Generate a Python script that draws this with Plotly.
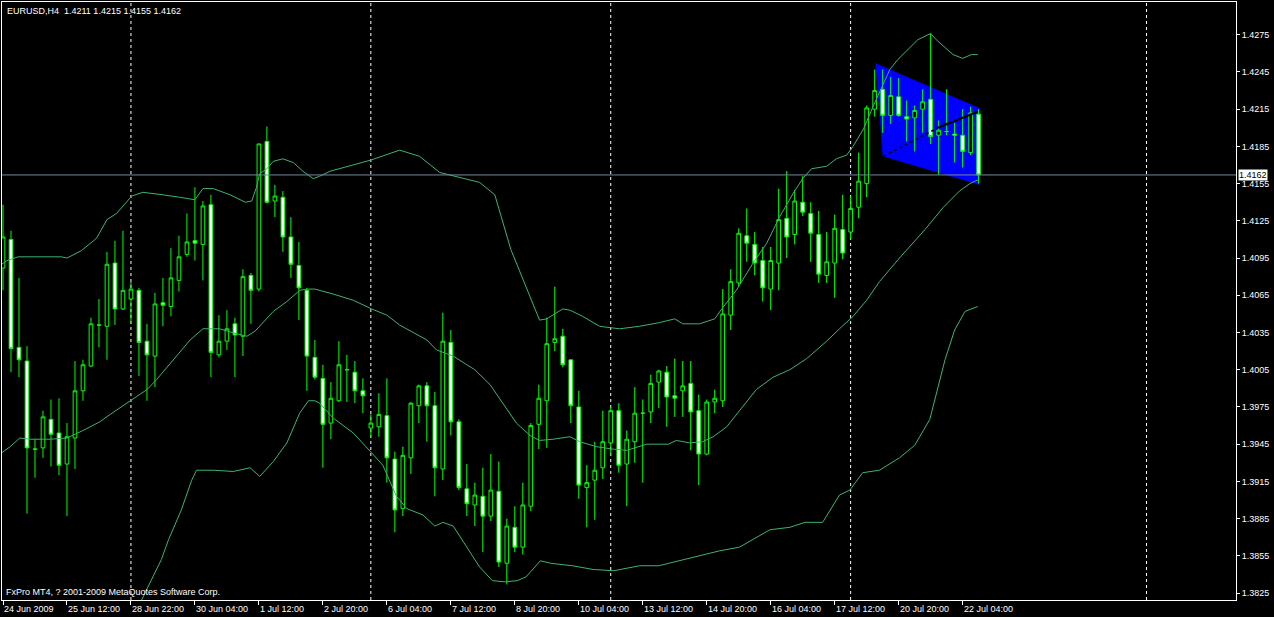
import plotly.graph_objects as go

# ---------------- data ----------------
symbol = "EURUSD,H4"
copyright_text = "FxPro MT4, ? 2001-2009 MetaQuotes Software Corp."

tick_labels = ["24 Jun 2009", "25 Jun 12:00", "28 Jun 22:00", "30 Jun 04:00", "1 Jul 12:00",
               "2 Jul 20:00", "6 Jul 04:00", "7 Jul 12:00", "8 Jul 20:00", "10 Jul 04:00",
               "13 Jul 12:00", "14 Jul 20:00", "16 Jul 04:00", "17 Jul 12:00", "20 Jul 20:00",
               "22 Jul 04:00"]
tick_bars = [0, 8, 16, 24, 32, 40, 48, 56, 64, 72, 80, 88, 96, 104, 112, 120]
grid_bars = [16, 46, 76, 106, 143]
ytick_vals = [1.4275, 1.4245, 1.4215, 1.4185, 1.4155, 1.4125, 1.4095, 1.4065, 1.4035,
              1.4005, 1.3975, 1.3945, 1.3915, 1.3885, 1.3855, 1.3825]

open_ = [1.4087, 1.4110, 1.4023, 1.4012, 1.3941, 1.3942, 1.3965, 1.3954, 1.3929, 1.3950,
         1.3988, 1.4008, 1.4041, 1.4040, 1.4091, 1.4054, 1.4062, 1.4069, 1.4028, 1.4016,
         1.4059, 1.4056, 1.4077, 1.4098, 1.4109, 1.4106, 1.4138, 1.4017, 1.4028, 1.4042,
         1.4032, 1.4081, 1.4070, 1.4189, 1.4141, 1.4144, 1.4112, 1.4089, 1.4069, 1.4015,
         1.3998, 1.3962, 1.3980, 1.4005, 1.4003, 1.3988, 1.3958, 1.3959, 1.3968, 1.3933,
         1.3893, 1.3934, 1.3976, 1.3992, 1.3976, 1.3925, 1.4027, 1.3963, 1.3909, 1.3896,
         1.3903, 1.3887, 1.3907, 1.3849, 1.3878, 1.3862, 1.3895, 1.3961, 1.3980, 1.4027,
         1.4032, 1.4013, 1.3975, 1.3910, 1.3916, 1.3926, 1.3946, 1.3972, 1.3929, 1.3947,
         1.3970, 1.3971, 1.3995, 1.4003, 1.3984, 1.3988, 1.3994, 1.3972, 1.3937, 1.3979,
         1.3980, 1.4049, 1.4075, 1.4113, 1.4106, 1.4093, 1.4070, 1.4091, 1.4127, 1.4114,
         1.4140, 1.4131, 1.4114, 1.4081, 1.4091, 1.4118, 1.4116, 1.4136, 1.4155, 1.4215,
         1.4231, 1.4210, 1.4225, 1.4209, 1.4208, 1.4215, 1.4223, 1.4194, 1.4197, 1.4195,
         1.4194, 1.4180, 1.4211]
high = [1.4138, 1.4117, 1.4079, 1.4024, 1.3949, 1.3972, 1.3981, 1.3982, 1.3962, 1.4012,
        1.4013, 1.4047, 1.4062, 1.4100, 1.4109, 1.4117, 1.4076, 1.4071, 1.4042, 1.4067,
        1.4079, 1.4103, 1.4113, 1.4131, 1.4152, 1.4141, 1.4146, 1.4049, 1.4053, 1.4047,
        1.4086, 1.4083, 1.4187, 1.4201, 1.4154, 1.4149, 1.4128, 1.4108, 1.4071, 1.4029,
        1.4009, 1.3995, 1.4028, 1.4017, 1.4012, 1.3998, 1.3969, 1.3986, 1.3998, 1.3939,
        1.3943, 1.3979, 1.3993, 1.3995, 1.3987, 1.4051, 1.4037, 1.3965, 1.3929, 1.3914,
        1.3926, 1.3937, 1.3931, 1.3885, 1.3895, 1.3914, 1.3962, 1.3993, 1.4047, 1.4072,
        1.4038, 1.4013, 1.3988, 1.3928, 1.3947, 1.3972, 1.3975, 1.3978, 1.3956, 1.3991,
        1.3981, 1.4001, 1.4005, 1.4008, 1.4014, 1.4012, 1.4012, 1.3985, 1.3981, 1.3989,
        1.4070, 1.4086, 1.4119, 1.4135, 1.4116, 1.4104, 1.4104, 1.4151, 1.4165, 1.4150,
        1.4161, 1.4140, 1.4133, 1.4116, 1.4130, 1.4146, 1.4145, 1.4180, 1.4218, 1.4247,
        1.4247, 1.4241, 1.4240, 1.4222, 1.4218, 1.4231, 1.4276, 1.4206, 1.4231, 1.4204,
        1.4215, 1.4217, 1.4215]
low = [1.4069, 1.4003, 1.3999, 1.3889, 1.3918, 1.3934, 1.3927, 1.3920, 1.3887, 1.3925,
       1.3980, 1.4007, 1.4023, 1.4013, 1.4041, 1.4053, 1.4043, 1.4000, 1.3980, 1.3991,
       1.4040, 1.4048, 1.4068, 1.4096, 1.4093, 1.4077, 1.3999, 1.4015, 1.4021, 1.3999,
       1.4016, 1.4042, 1.4068, 1.4139, 1.4128, 1.4100, 1.4079, 1.4045, 1.3988, 1.3997,
       1.3926, 1.3949, 1.3979, 1.3979, 1.3978, 1.3970, 1.3951, 1.3951, 1.3914, 1.3874,
       1.3887, 1.3921, 1.3962, 1.3947, 1.3903, 1.3916, 1.3952, 1.3908, 1.3887, 1.3879,
       1.3858, 1.3883, 1.3846, 1.3832, 1.3858, 1.3856, 1.3891, 1.3941, 1.3942, 1.4020,
       1.4007, 1.3962, 1.3901, 1.3878, 1.3884, 1.3917, 1.3936, 1.3922, 1.3895, 1.3930,
       1.3914, 1.3962, 1.3974, 1.3959, 1.3967, 1.3967, 1.3940, 1.3912, 1.3936, 1.3970,
       1.3975, 1.4037, 1.4072, 1.4092, 1.4081, 1.4060, 1.4053, 1.4069, 1.4095, 1.4106,
       1.4129, 1.4092, 1.4075, 1.4075, 1.4063, 1.4094, 1.4110, 1.4127, 1.4144, 1.4209,
       1.4196, 1.4203, 1.4209, 1.4189, 1.4181, 1.4196, 1.4187, 1.4162, 1.4194, 1.4172,
       1.4168, 1.4178, 1.4155]
close = [1.4112, 1.4022, 1.4013, 1.3942, 1.3941, 1.3967, 1.3953, 1.3928, 1.3951, 1.3988,
         1.4009, 1.4042, 1.4041, 1.4090, 1.4054, 1.4069, 1.4070, 1.4027, 1.4017, 1.4058,
         1.4057, 1.4079, 1.4096, 1.4108, 1.4107, 1.4137, 1.4019, 1.4028, 1.4038, 1.4033,
         1.4080, 1.4069, 1.4187, 1.4140, 1.4145, 1.4112, 1.4090, 1.4071, 1.4016, 1.3999,
         1.3961, 1.3982, 1.4009, 1.4005, 1.3988, 1.3984, 1.3962, 1.3969, 1.3934, 1.3892,
         1.3936, 1.3978, 1.3992, 1.3976, 1.3926, 1.4028, 1.3963, 1.3910, 1.3897, 1.3904,
         1.3887, 1.3908, 1.3850, 1.3879, 1.3862, 1.3896, 1.3960, 1.3982, 1.4026, 1.4030,
         1.4009, 1.3976, 1.3912, 1.3914, 1.3924, 1.3947, 1.3972, 1.3928, 1.3949, 1.3970,
         1.3970, 1.3994, 1.4004, 1.3983, 1.3982, 1.3992, 1.3971, 1.3937, 1.3979, 1.3982,
         1.4050, 1.4076, 1.4115, 1.4107, 1.4091, 1.4071, 1.4093, 1.4126, 1.4112, 1.4141,
         1.4132, 1.4115, 1.4082, 1.4092, 1.4119, 1.4099, 1.4135, 1.4157, 1.4216, 1.4230,
         1.4210, 1.4226, 1.4210, 1.4207, 1.4214, 1.4221, 1.4193, 1.4198, 1.4197, 1.4194,
         1.4181, 1.4212, 1.4162]
bars = list(range(len(open_)))

# Bollinger bands (read at bar positions)
bb_up_bar = [-0.4, 0.5, 1.9, 3.6, 5.5, 7.3, 8.0, 9.8, 11.7, 12.3, 13.0, 14.2, 16.1, 17.5, 19.2,
             20.0, 22.1, 24.0, 25.0, 26.3, 28.4, 30.3, 31.1, 31.7, 32.1, 33.0, 33.8, 35.0, 36.3,
             37.5, 38.8, 39.6, 40.9, 42.1, 46.0, 49.6, 52.1, 54.6, 57.1, 59.6, 61.5, 63.5, 67.1,
             68.0, 70.0, 70.9, 72.5, 74.6, 77.1, 79.6, 82.1, 84.0, 85.0, 87.1, 89.0, 90.0, 91.7,
             93.8, 95.5, 97.1, 98.8, 100.0, 101.1, 103.0, 104.2, 105.5, 106.3, 107.6, 108.8,
             110.9, 111.9, 114.4, 116.0, 116.7, 118.8, 120.0, 121.1, 121.9]
bb_up = [1.4089, 1.4093, 1.4096, 1.4096, 1.4096, 1.4096, 1.4095, 1.4101, 1.4111, 1.4118,
         1.4126, 1.4131, 1.4145, 1.4148, 1.4147, 1.4146, 1.4144, 1.4142, 1.4151, 1.4151,
         1.4146, 1.4140, 1.4141, 1.4152, 1.4163, 1.4167, 1.4173, 1.4175, 1.4172, 1.4165,
         1.4159, 1.4161, 1.4165, 1.4167, 1.4174, 1.4182, 1.4177, 1.4164, 1.4160, 1.4156,
         1.4146, 1.4102, 1.4045, 1.4046, 1.4054, 1.4053, 1.4048, 1.4040, 1.4038, 1.4040,
         1.4043, 1.4046, 1.4042, 1.4042, 1.4046, 1.4055, 1.4069, 1.4091, 1.4107, 1.4128,
         1.4147, 1.4159, 1.4167, 1.4169, 1.4175, 1.4178, 1.4185, 1.4199, 1.4217, 1.4247,
         1.4255, 1.4271, 1.4276, 1.4271, 1.4259, 1.4256, 1.4259, 1.4259]
bb_mid_bar = [-0.4, 0.9, 2.1, 3.4, 5.9, 8.0, 10.0, 12.1, 13.4, 15.9, 18.0, 19.2, 21.3, 23.4,
              25.0, 27.1, 29.2, 30.5, 31.5, 33.8, 35.5, 37.1, 38.0, 39.0, 41.3, 43.8, 46.1,
              48.0, 49.6, 51.7, 53.0, 54.2, 56.3, 58.0, 59.0, 60.9, 62.5, 64.2, 65.9, 67.1,
              68.8, 70.9, 72.1, 74.2, 76.3, 78.0, 80.5, 83.2, 84.2, 85.9, 87.5, 88.8, 90.5,
              92.1, 94.2, 96.3, 98.4, 100.5, 103.0, 104.6, 106.3, 108.0, 109.6, 112.1, 115.3,
              117.6, 119.6, 120.9, 121.9]
bb_mid = [1.3937, 1.3943, 1.3950, 1.3949, 1.3949, 1.3950, 1.3956, 1.3963, 1.3969, 1.3980,
          1.3989, 1.3997, 1.4013, 1.4029, 1.4038, 1.4038, 1.4034, 1.4032, 1.4036, 1.4052,
          1.4060, 1.4069, 1.4070, 1.4070, 1.4066, 1.4061, 1.4054, 1.4049, 1.4041, 1.4034,
          1.4029, 1.4021, 1.4016, 1.4009, 1.4005, 1.3993, 1.3978, 1.3962, 1.3952, 1.3948,
          1.3949, 1.3951, 1.3947, 1.3943, 1.3941, 1.3940, 1.3945, 1.3945, 1.3948, 1.3946,
          1.3947, 1.3951, 1.3959, 1.3972, 1.3989, 1.3999, 1.4005, 1.4014, 1.4028, 1.4038,
          1.4048, 1.4061, 1.4076, 1.4095, 1.4118, 1.4136, 1.4149, 1.4155, 1.4158]
bb_low_bar = [17.3, 19.8, 20.7, 22.3, 23.6, 24.2, 26.3, 28.8, 30.9, 32.1, 33.8, 35.5, 37.1,
              38.2, 39.0, 39.6, 41.3, 43.8, 46.1, 47.5, 49.2, 50.5, 52.5, 54.0, 55.0, 56.3,
              58.0, 59.6, 61.2, 62.8, 64.3, 65.4, 67.2, 68.5, 71.2, 73.8, 76.4, 78.0, 79.6,
              82.0, 84.6, 87.1, 89.6, 92.1, 94.0, 95.9, 98.4, 100.3, 102.5, 104.6, 105.9,
              107.5, 109.6, 112.1, 114.0, 115.9, 117.8, 119.0, 120.3, 121.9]
bb_low = [1.3819, 1.3852, 1.3868, 1.3892, 1.3916, 1.3924, 1.3924, 1.3923, 1.3926, 1.3919,
          1.3931, 1.3946, 1.3970, 1.3980, 1.3980, 1.3978, 1.3966, 1.3954, 1.3938, 1.3928,
          1.3903, 1.3893, 1.3888, 1.3879, 1.3882, 1.3879, 1.3862, 1.3846, 1.3835, 1.3834,
          1.3835, 1.3838, 1.3851, 1.3849, 1.3847, 1.3844, 1.3843, 1.3845, 1.3847, 1.3847,
          1.3851, 1.3855, 1.3859, 1.3862, 1.3869, 1.3876, 1.3878, 1.3882, 1.3882, 1.3904,
          1.3908, 1.3922, 1.3924, 1.3934, 1.3944, 1.3965, 1.4013, 1.4037, 1.4052, 1.4056]

# drawn objects (bar position, price)
channel_bars = [109.1, 122.05, 122.05, 110.0]
channel_prices = [1.4252, 1.4216, 1.4154, 1.4177]
trend_bars = [110.1, 116.9, 121.9]
trend_prices = [1.4177, 1.4200, 1.4213]

# ---------------- figure ----------------
FONT = "Liberation Sans"
GREEN = "#00FF00"
BAND = "#3CB371"

fig = go.Figure()

for bx, by in [(bb_up_bar, bb_up), (bb_mid_bar, bb_mid), (bb_low_bar, bb_low)]:
    fig.add_trace(go.Scatter(x=bx, y=by, mode="lines", line=dict(color=BAND, width=1),
                             hoverinfo="skip"))

fig.add_trace(go.Candlestick(
    x=bars, open=open_, high=high, low=low, close=close,
    increasing=dict(line=dict(color=GREEN, width=1), fillcolor="black"),
    decreasing=dict(line=dict(color=GREEN, width=1), fillcolor="white"),
    whiskerwidth=0,
))

fig.add_trace(go.Scatter(x=trend_bars[:2], y=trend_prices[:2], mode="lines",
                         line=dict(color="black", width=1.5, dash="dot"), hoverinfo="skip"))
fig.add_trace(go.Scatter(x=trend_bars[1:], y=trend_prices[1:], mode="lines",
                         line=dict(color="black", width=2), hoverinfo="skip"))

shapes = []
for gb in grid_bars:
    shapes.append(dict(type="line", xref="x", yref="paper", x0=gb, x1=gb, y0=0, y1=1,
                       line=dict(color="white", width=1, dash="3px,3px"), layer="below"))
channel_path = "M " + " L ".join(f"{b},{p}" for b, p in zip(channel_bars, channel_prices)) + " Z"
shapes.append(dict(type="path", xref="x", yref="y", path=channel_path,
                   fillcolor="#0000FF", line=dict(width=0), layer="below"))
shapes.append(dict(type="line", xref="paper", yref="y", x0=0, x1=1, y0=close[-1], y1=close[-1],
                   line=dict(color="#778899", width=1), layer="above"))

annotations = []
for tb, tl in zip(tick_bars, tick_labels):
    annotations.append(dict(x=tb, xref="x", y=0, yref="paper", text=tl, showarrow=False,
                            xanchor="left", yanchor="top", yshift=-2, xshift=-1,
                            font=dict(family=FONT, size=9, color="white")))
header = f"{symbol}  {open_[-1]:.4f} {high[-1]:.4f} {low[-1]:.4f} {close[-1]:.4f}"
annotations.append(dict(x=0, xref="paper", y=1, yref="paper", text=header, showarrow=False,
                        xanchor="left", yanchor="top", xshift=3, yshift=-2,
                        font=dict(family=FONT, size=9, color="white")))
annotations.append(dict(x=0, xref="paper", y=0, yref="paper", text=copyright_text,
                        showarrow=False, xanchor="left", yanchor="bottom", xshift=2, yshift=1,
                        font=dict(family=FONT, size=9, color="white")))
annotations.append(dict(x=1, xref="paper", y=close[-1], yref="y", text=f"{close[-1]:.4f}",
                        showarrow=False, xanchor="left", yanchor="middle", xshift=2,
                        bgcolor="white", borderpad=0,
                        font=dict(family=FONT, size=9, color="black")))

fig.update_layout(
    width=1274, height=617,
    margin=dict(l=2, r=38, t=2, b=17),
    paper_bgcolor="black", plot_bgcolor="black",
    showlegend=False,
    boxgap=0.35,
    shapes=shapes, annotations=annotations,
    xaxis=dict(range=[-0.125, 154.19], showgrid=False, zeroline=False,
               showline=True, mirror=True, linecolor="white", linewidth=1,
               ticks="outside", ticklen=4, tickcolor="white", tickvals=tick_bars,
               showticklabels=False, rangeslider=dict(visible=False), fixedrange=True),
    yaxis=dict(range=[1.38194, 1.43014], side="right", showgrid=False, zeroline=False,
               showline=True, mirror=True, linecolor="white", linewidth=1,
               ticks="outside", ticklen=3, tickcolor="white", tickvals=ytick_vals,
               tickformat=".4f", tickfont=dict(family=FONT, size=9, color="white"),
               fixedrange=True),
)

fig.write_html("out.html", config={"displayModeBar": False},
               post_script="document.body.style.margin='0';document.body.style.overflow='hidden';")
